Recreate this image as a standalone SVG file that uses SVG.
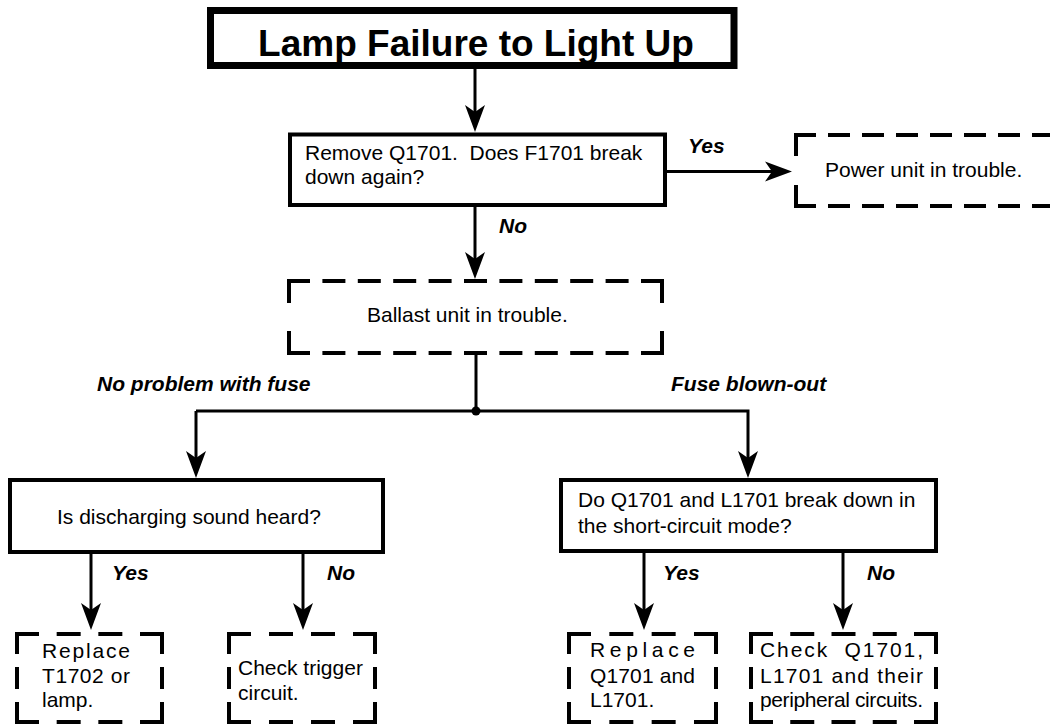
<svg xmlns="http://www.w3.org/2000/svg" width="1050" height="726" viewBox="0 0 1050 726">
<style>
.box{fill:#fff;stroke:#000;stroke-width:4}
.title{fill:#fff;stroke:#000;stroke-width:7}
.d{stroke:#000;stroke-width:4;fill:none}
.c{stroke:#000;stroke-width:3;fill:none}
.t{font-family:"Liberation Sans",Arial,sans-serif;font-size:21px;fill:#000;white-space:pre}
.l{font-family:"Liberation Sans",Arial,sans-serif;font-size:21px;font-weight:bold;font-style:italic;fill:#000}
.h{font-family:"Liberation Sans",Arial,sans-serif;font-size:37px;font-weight:bold;fill:#000}
</style>
<defs>
<marker id="ah" markerUnits="userSpaceOnUse" viewBox="0 -10 27 20" refX="7" refY="0" markerWidth="27" markerHeight="20" orient="auto" overflow="visible">
<path d="M27,0 L0,-10 L7,0 L0,10 Z" fill="#000"/>
</marker>
</defs>
<rect width="1050" height="726" fill="#fff"/>

<g id="connectors">
<line class="c" x1="475" y1="69" x2="475" y2="112" marker-end="url(#ah)"/>
<line class="c" x1="667" y1="171.5" x2="772" y2="171.5" marker-end="url(#ah)"/>
<line class="c" x1="475" y1="207" x2="475" y2="259" marker-end="url(#ah)"/>
<polyline class="c" points="476,355 476,411"/>
<polyline class="c" points="196,411 748,411 748,458" marker-end="url(#ah)"/>
<line class="c" x1="196" y1="411" x2="196" y2="458" marker-end="url(#ah)"/>
<circle cx="476" cy="411" r="4.5" fill="#000"/>
<line class="c" x1="91" y1="554" x2="91" y2="610" marker-end="url(#ah)"/>
<line class="c" x1="303" y1="554" x2="303" y2="610" marker-end="url(#ah)"/>
<line class="c" x1="644" y1="553" x2="644" y2="610" marker-end="url(#ah)"/>
<line class="c" x1="843" y1="553" x2="843" y2="610" marker-end="url(#ah)"/>
<text class="l" x="688" y="153">Yes</text>
<text class="l" x="499" y="233">No</text>
<text class="l" x="97" y="391">No problem with fuse</text>
<text class="l" x="671" y="391">Fuse blown-out</text>
<text class="l" x="112" y="580">Yes</text>
<text class="l" x="327" y="580">No</text>
<text class="l" x="663" y="580">Yes</text>
<text class="l" x="867" y="580">No</text>
</g>

<g id="title">
<rect class="title" x="210.5" y="10.5" width="523.5" height="55"/>
<text class="h" x="476" y="56" text-anchor="middle">Lamp Failure to Light Up</text>
</g>

<g id="q1">
<rect class="box" x="290" y="134.5" width="375" height="70.5"/>
<text class="t" x="305" y="160" xml:space="preserve">Remove Q1701.  Does F1701 break</text>
<text class="t" x="305" y="184">down again?</text>
</g>

<g id="power">
<line class="d" x1="794" y1="135" x2="1060" y2="135" stroke-dasharray="22 12"/>
<line class="d" x1="794" y1="206" x2="1060" y2="206" stroke-dasharray="22 12"/>
<line class="d" x1="796" y1="133" x2="796" y2="208" stroke-dasharray="23 29"/>
<text class="t" x="825" y="177">Power unit in trouble.</text>
</g>

<g id="ballast">
<line class="d" x1="287" y1="281" x2="664" y2="281" stroke-dasharray="23 12.4"/>
<line class="d" x1="287" y1="353" x2="664" y2="353" stroke-dasharray="23 12.4"/>
<line class="d" x1="289" y1="279" x2="289" y2="355" stroke-dasharray="24 28"/>
<line class="d" x1="662" y1="279" x2="662" y2="355" stroke-dasharray="24 28"/>
<text class="t" x="367" y="322">Ballast unit in trouble.</text>
</g>

<g id="q2">
<rect class="box" x="10" y="480" width="373" height="72"/>
<text class="t" x="57" y="524">Is discharging sound heard?</text>
</g>

<g id="q3">
<rect class="box" x="561" y="480" width="375" height="71"/>
<text class="t" x="578" y="507">Do Q1701 and L1701 break down in</text>
<text class="t" x="578" y="533">the short-circuit mode?</text>
</g>

<g id="r1">
<line class="d" x1="15" y1="634" x2="164" y2="634" stroke-dasharray="24 17.67"/>
<line class="d" x1="15" y1="722" x2="164" y2="722" stroke-dasharray="24 17.67"/>
<line class="d" x1="17" y1="632" x2="17" y2="724" stroke-dasharray="22 13"/>
<line class="d" x1="162" y1="632" x2="162" y2="724" stroke-dasharray="22 13"/>
<text class="t" x="42" y="658" textLength="88" lengthAdjust="spacing">Replace</text>
<text class="t" x="42" y="683" textLength="88" lengthAdjust="spacing">T1702 or</text>
<text class="t" x="42" y="707">lamp.</text>
</g>

<g id="r2">
<line class="d" x1="227" y1="634" x2="377" y2="634" stroke-dasharray="24 18"/>
<line class="d" x1="227" y1="722" x2="377" y2="722" stroke-dasharray="24 18"/>
<line class="d" x1="229" y1="632" x2="229" y2="724" stroke-dasharray="22 13"/>
<line class="d" x1="375" y1="632" x2="375" y2="724" stroke-dasharray="22 13"/>
<text class="t" x="238" y="675">Check trigger</text>
<text class="t" x="238" y="699.5">circuit.</text>
</g>

<g id="r3">
<line class="d" x1="567" y1="634" x2="718" y2="634" stroke-dasharray="24 18.33"/>
<line class="d" x1="567" y1="722" x2="718" y2="722" stroke-dasharray="24 18.33"/>
<line class="d" x1="569" y1="632" x2="569" y2="724" stroke-dasharray="22 13"/>
<line class="d" x1="716" y1="632" x2="716" y2="724" stroke-dasharray="22 13"/>
<text class="t" x="590" y="657" textLength="105" lengthAdjust="spacing">Replace</text>
<text class="t" x="590" y="683" textLength="105" lengthAdjust="spacing">Q1701 and</text>
<text class="t" x="590" y="707">L1701.</text>
</g>

<g id="r4">
<line class="d" x1="749" y1="634" x2="938" y2="634" stroke-dasharray="24 17.25"/>
<line class="d" x1="749" y1="722" x2="938" y2="722" stroke-dasharray="24 17.25"/>
<line class="d" x1="751" y1="632" x2="751" y2="724" stroke-dasharray="22 13"/>
<line class="d" x1="936" y1="632" x2="936" y2="724" stroke-dasharray="22 13"/>
<text class="t" x="760" y="657" textLength="163" lengthAdjust="spacing" xml:space="preserve">Check  Q1701,</text>
<text class="t" x="760" y="683" textLength="163" lengthAdjust="spacing">L1701 and their</text>
<text class="t" x="760" y="707" textLength="163" lengthAdjust="spacing">peripheral circuits.</text>
</g>
</svg>
